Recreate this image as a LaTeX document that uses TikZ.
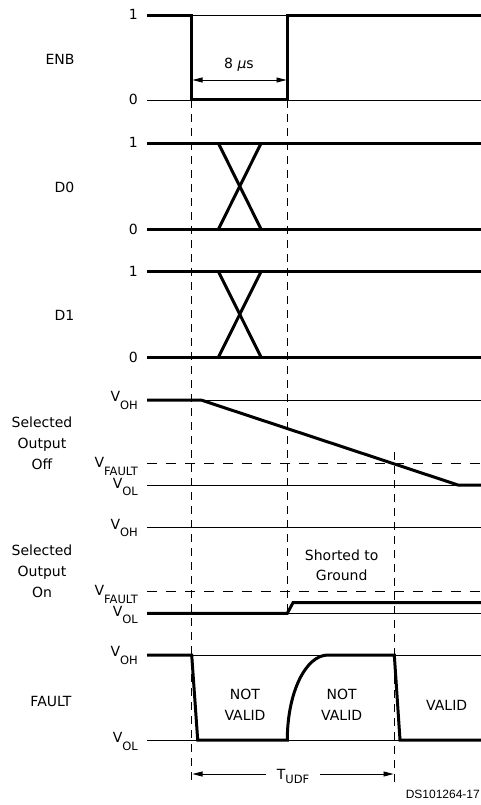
\documentclass[tikz,border=0pt]{standalone}
\usepackage{fontspec}
\setmainfont{DejaVu Sans}
\newfontfamily\dsfont{Liberation Sans}
\usetikzlibrary{arrows.meta}
\newcommand{\VS}[1]{V\raisebox{-7.5pt}{\fontsize{11.5}{11.5}\selectfont #1}}
\begin{document}
\begin{tikzpicture}[x=1pt,y=-1pt,
  thk/.style={line width=3pt, line join=miter, line cap=butt},
  thn/.style={line width=0.9pt},
  dsh/.style={line width=0.9pt, dash pattern=on 8pt off 6pt},
  hdsh/.style={line width=0.9pt, dash pattern=on 10pt off 9pt},
  lbl/.style={font=\fontsize{14}{14}\selectfont, inner sep=0pt, anchor=base},
  lvl/.style={font=\fontsize{14}{14}\selectfont, inner sep=0pt, anchor=base east},
  arr/.style={line width=0.8pt, -{Triangle[length=10pt,width=5pt]}},
]
\useasboundingbox (0,0) rectangle (481,805);

% ---------------- ENB ----------------
\node[lbl] (enb) at (60,64.3) {ENB};
\node[lvl] (enb1) at (138,20) {1};
\node[lvl] (enb0) at (138,105) {0};
\draw[thn] (191.7,15.5) -- (287.3,15.5);
\draw[thn] (147,100) -- (481,100);
\draw[thk] (147,15.5) -- (191.7,15.5) -- (191.7,100) -- (287.3,100) -- (287.3,15.5) -- (481,15.5);
\coordinate (wa) at (192.5,80);
\coordinate (wb) at (286.5,80);
\draw[arr,{Triangle[length=10pt,width=5pt]}-{Triangle[length=10pt,width=5pt]}] (wa) -- (wb);
\node[lbl] (width) at (239,69) {8 \textit{μ}s};

% ---------------- D0 ----------------
\node[lbl] (d0) at (64.5,192.3) {D0};
\node[lvl] (d01) at (138,148) {1};
\node[lvl] (d00) at (138,234) {0};
\draw[thk] (147,143.5) -- (481,143.5);
\draw[thk] (147,229) -- (481,229);
\draw[thk] (218.5,143.5) -- (261,229);
\draw[thk] (218.5,229) -- (261,143.5);

% ---------------- D1 ----------------
\node[lbl] (d1) at (64.5,320.7) {D1};
\node[lvl] (d11) at (138,276.5) {1};
\node[lvl] (d10) at (138,362) {0};
\draw[thk] (147,271.7) -- (481,271.7);
\draw[thk] (147,357) -- (481,357);
\draw[thk] (218.5,271.7) -- (261,357);
\draw[thk] (218.5,357) -- (261,271.7);

% ---------------- Selected Output Off ----------------
\node[lbl] (soffa) at (42,427.3) {Selected};
\node[lbl] (soffb) at (42,448.3) {Output};
\node[lbl] (soffc) at (42,469.3) {Off};
\node[lvl] (offvoh) at (138,401.7) {\VS{OH}};
\node[lvl] (offvf) at (138,467.5) {\VS{FAULT}};
\node[lvl] (offvol) at (138,488) {\VS{OL}};
\draw[thn] (147,400) -- (481,400);
\draw[hdsh] (147,463.3) -- (481,463.3);
\draw[thn] (147,485) -- (481,485);
\draw[thk] (147,400) -- (201,400) -- (458,485) -- (481,485);

% ---------------- Selected Output On ----------------
\node[lbl] (sona) at (42,555.7) {Selected};
\node[lbl] (sonb) at (42,576.7) {Output};
\node[lbl] (sonc) at (42,597.7) {On};
\node[lvl] (onvoh) at (138,529) {\VS{OH}};
\node[lvl] (onvf) at (138,595.8) {\VS{FAULT}};
\node[lvl] (onvol) at (138,616.3) {\VS{OL}};
\draw[thn] (147,527.3) -- (481,527.3);
\draw[hdsh] (147,591.7) -- (481,591.7);
\draw[thn] (147,613.3) -- (481,613.3);
\draw[thk] (147,613.3) -- (287.3,613.3) -- (293,602.7) -- (481,602.7);
\node[lbl] (shorta) at (341.7,560) {Shorted to};
\node[lbl] (shortb) at (341.7,580.7) {Ground};

% ---------------- FAULT ----------------
\node[lbl] (fault) at (51,706) {FAULT};
\node[lvl] (fvoh) at (138,656.7) {\VS{OH}};
\node[lvl] (fvol) at (138,742.5) {\VS{OL}};
\draw[thn] (147,655) -- (481,655);
\draw[thn] (147,740) -- (481,740);
\draw[thk] (147,655) -- (191.7,655) -- (197.7,740) -- (287.3,740)
  .. controls (287.3,693) and (305.5,655) .. (328,655) -- (394.3,655)
  -- (400,740) -- (481,740);
\node[lbl] (nv1a) at (245,699) {NOT};
\node[lbl] (nv1b) at (245,720) {VALID};
\node[lbl] (nv2a) at (341.7,699) {NOT};
\node[lbl] (nv2b) at (341.7,720) {VALID};
\node[lbl] (valid) at (446.7,710) {VALID};

% ---------------- dashed time markers ----------------
\coordinate (ta1) at (191.7,100);
\coordinate (ta2) at (191.7,785);
\coordinate (tb1) at (287.3,100);
\coordinate (tb2) at (287.3,613);
\coordinate (tc1) at (394.3,452);
\coordinate (tc2) at (394.3,785);
\draw[dsh] (ta1) -- (ta2);
\draw[dsh] (tb1) -- (tb2);
\draw[dsh] (tc1) -- (tc2);

% ---------------- T_UDF ----------------
\node[font=\fontsize{14}{14}\selectfont, inner ysep=0pt, inner xsep=11pt] (tudf) at (293,776)
  {T\raisebox{-4pt}{\fontsize{11.5}{11.5}\selectfont UDF}};
\coordinate (ua) at (192.5,774);
\coordinate (ub) at (393.5,774);
\draw[arr] (tudf.west |- ua) -- (ua);
\draw[arr] (tudf.east |- ub) -- (ub);

\node[font=\dsfont\fontsize{12}{12}\selectfont, inner sep=0pt, anchor=base east] (ds) at (480,798.3) {DS101264-17};
\end{tikzpicture}
\end{document}
